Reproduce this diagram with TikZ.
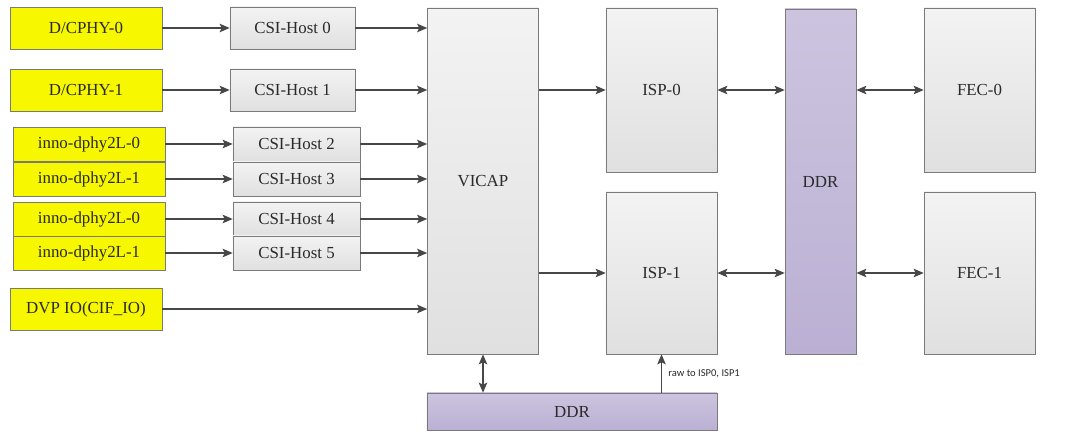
\documentclass[tikz,border=0pt]{standalone}
\usepackage{fontspec}
\setmainfont{Liberation Serif}
\newfontfamily\notefont{Carlito}
\usetikzlibrary{arrows.meta}

\definecolor{edgegray}{HTML}{7A7A7A}
\definecolor{linkgray}{HTML}{474747}
\definecolor{textgray}{HTML}{2A2A2A}
\definecolor{boxtop}{HTML}{F3F3F3}
\definecolor{boxbot}{HTML}{E0E0E0}
\definecolor{memtop}{HTML}{CCC4DF}
\definecolor{membot}{HTML}{BBB0D3}
\definecolor{phyfill}{HTML}{F7F700}

\begin{document}
\begin{tikzpicture}[
  x=0.025cm,y=-0.025cm,
  tip/.style={Stealth[length=2.5mm,width=2.1mm,inset=0.5mm]},
  phy/.style={draw=edgegray,fill=phyfill,minimum width=3.8cm,minimum height=1.05cm,inner sep=0pt},
  phypair/.style={phy,minimum height=0.86cm},
  host/.style={draw=edgegray,top color=boxtop,bottom color=boxbot,minimum width=3.125cm,minimum height=1.05cm,inner sep=0pt},
  hostpair/.style={host,minimum width=3.175cm,minimum height=0.86cm},
  block/.style={draw=edgegray,top color=boxtop,bottom color=boxbot,minimum width=2.775cm,minimum height=4.1cm,inner sep=0pt},
  mem/.style={draw=edgegray,top color=memtop,bottom color=membot,inner sep=0pt},
  flow/.style={-{Stealth[length=2.5mm,width=2.1mm,inset=0.5mm]},line width=1.2pt,linkgray},
  both/.style={{Stealth[length=2.5mm,width=2.1mm,inset=0.5mm]}-{Stealth[length=2.5mm,width=2.1mm,inset=0.5mm]},line width=1.2pt,linkgray},
  every node/.append style={font=\fontsize{12}{14}\selectfont,text=textgray}
]
  \useasboundingbox (0,0) rectangle (1077,446);

  % sensor inputs
  \node[phy] (cphy0) at (86,28) {D/CPHY-0};
  \node[phy] (cphy1) at (86,90) {D/CPHY-1};
  \node[phypair] (dphyA0) at (89,144) {inno-dphy2L-0};
  \node[phypair] (dphyA1) at (89,179) {inno-dphy2L-1};
  \node[phypair] (dphyB0) at (89,219) {inno-dphy2L-0};
  \node[phypair] (dphyB1) at (89,253) {inno-dphy2L-1};
  \node[phy] (dvp) at (86,309) {DVP IO(CIF\_IO)};

  % csi hosts
  \node[host] (host0) at (292.5,28) {CSI-Host 0};
  \node[host] (host1) at (292.5,90) {CSI-Host 1};
  \node[hostpair] (host2) at (296.5,144) {CSI-Host 2};
  \node[hostpair] (host3) at (296.5,179) {CSI-Host 3};
  \node[hostpair] (host4) at (296.5,219) {CSI-Host 4};
  \node[hostpair] (host5) at (296.5,253) {CSI-Host 5};

  % capture, isp, memory
  \node[block,minimum height=8.65cm] (vicap) at (483,181) {VICAP};
  \node[block] (isp0) at (661.5,90) {ISP-0};
  \node[block,minimum height=4.05cm] (isp1) at (661.5,273) {ISP-1};
  \node[mem,minimum width=1.775cm,minimum height=8.625cm] (ddr) at (820.5,181.5) {DDR};
  \node[block] (fec0) at (979.5,90) {FEC-0};
  \node[block,minimum height=4.05cm] (fec1) at (979.5,273) {FEC-1};
  \node[mem,minimum width=7.25cm,minimum height=0.925cm] (ddrlow) at (572,411.5) {DDR};

  % phy -> host
  \draw[flow] (cphy0) -- (host0);
  \draw[flow] (cphy1) -- (host1);
  \draw[flow] (dphyA0) -- (host2);
  \draw[flow] (dphyA1) -- (host3);
  \draw[flow] (dphyB0) -- (host4);
  \draw[flow] (dphyB1) -- (host5);

  % host -> vicap
  \foreach \h in {host0,host1,host2,host3,host4,host5,dvp}
    \draw[flow] (\h.east) -- (\h.east -| vicap.west);

  % vicap -> isp
  \draw[flow] (isp0.west -| vicap.east) -- (isp0.west);
  \draw[flow] (isp1.west -| vicap.east) -- (isp1.west);

  % isp/fec <-> ddr
  \draw[both] (isp0.east) -- (isp0.east -| ddr.west);
  \draw[both] (isp1.east) -- (isp1.east -| ddr.west);
  \draw[both] (fec0.west -| ddr.east) -- (fec0.west);
  \draw[both] (fec1.west -| ddr.east) -- (fec1.west);

  % lower ddr
  \draw[both] (vicap.south) -- (vicap.south |- ddrlow.north);
  \draw[flow] (isp1.south |- ddrlow.north) -- (isp1.south)
    node[pos=.5,right=1pt,font=\notefont\fontsize{7.5}{9}\selectfont] {raw to ISP0, ISP1};
\end{tikzpicture}
\end{document}
